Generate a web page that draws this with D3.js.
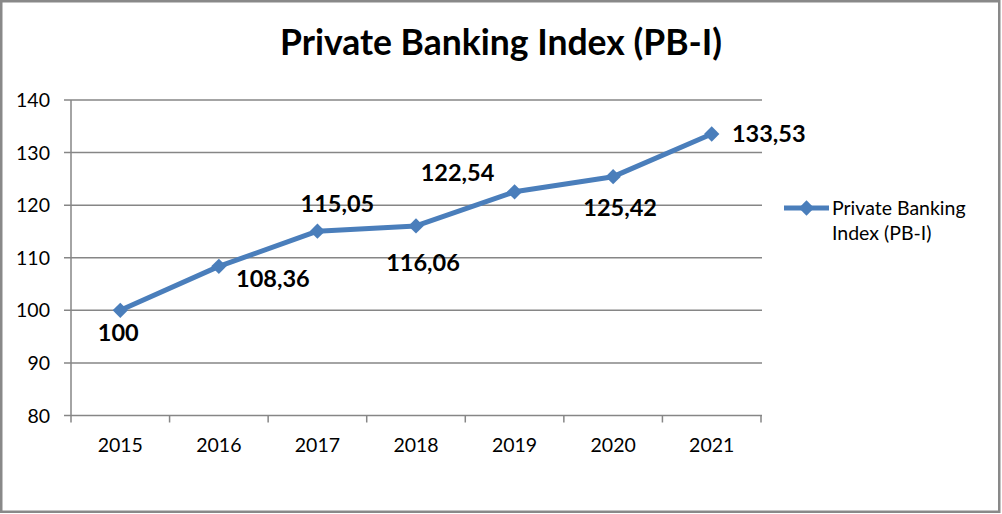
<!DOCTYPE html>
<html>
<head>
<meta charset="utf-8">
<script src="https://d3js.org/d3.v7.min.js"></script>
<style>
  body { margin: 0; background: #fff; }
  text { font-family: Lato, "Open Sans", sans-serif; fill: #000; }
</style>
</head>
<body>
<script>
// chart data
const years = ["2015", "2016", "2017", "2018", "2019", "2020", "2021"];
const pbIndex = [100, 108.36, 115.05, 116.06, 122.54, 125.42, 133.53];
const yTicks = [80, 90, 100, 110, 120, 130, 140];
const seriesName = "Private Banking Index (PB-I)";

// where each data label sits relative to its point (dx to label centre, dy to baseline)
const labelOffsets = [[-2, 31], [54, 21], [20, -19], [7, 45], [-57, -11], [7, 39], [57, 8]];

const width = 1002, height = 514;
const plotLeft = 71, plotRight = 761, plotTop = 100, plotBottom = 415.5;
const blue = "#4a7ebb", grid = "#868686";

const locale = d3.formatLocale({decimal: ",", thousands: ".", grouping: [3], currency: ["", ""]});
const fmt = v => Number.isInteger(v) ? String(v) : locale.format(".2f")(v);

const svg = d3.select("body").append("svg")
    .attr("width", width)
    .attr("height", height);

// outer frame
svg.append("rect")
    .attr("x", 1.25).attr("y", 1.25)
    .attr("width", width - 4).attr("height", height - 3.5)
    .attr("fill", "#fff")
    .attr("stroke", "#898989")
    .attr("stroke-width", 2.5);

// title
svg.append("text")
    .attr("x", 501).attr("y", 55)
    .attr("text-anchor", "middle")
    .style("font-size", "35.5px")
    .style("font-weight", "bold")
    .text(seriesName);

let x = d3.scaleBand().domain(years).range([plotLeft, plotRight]).padding(0);
let y = d3.scaleLinear().domain([80, 140]).range([plotBottom, plotTop]);
let cx = d => x(d) + x.bandwidth() / 2;

// horizontal gridlines + y ticks
svg.append("g").selectAll("line")
    .data(yTicks)
    .join("line")
        .attr("x1", plotLeft - 7).attr("x2", plotRight + 1)
        .attr("y1", d => y(d)).attr("y2", d => y(d))
        .style("stroke", grid)
        .style("stroke-width", 1.5);

// y axis line
svg.append("line")
    .attr("x1", plotLeft).attr("x2", plotLeft)
    .attr("y1", plotTop).attr("y2", plotBottom)
    .style("stroke", grid).style("stroke-width", 1.5);

// y labels
svg.append("g").selectAll("text")
    .data(yTicks)
    .join("text")
        .attr("x", 50).attr("y", d => y(d) + 7)
        .attr("text-anchor", "end")
        .style("font-size", "19.5px")
        .text(d => d);

// x tick marks at category boundaries
let boundaries = years.map(d => x(d)).concat([plotRight]);
svg.append("g").selectAll("line")
    .data(boundaries)
    .join("line")
        .attr("x1", d => d).attr("x2", d => d)
        .attr("y1", plotBottom).attr("y2", plotBottom + 7)
        .style("stroke", grid).style("stroke-width", 1.5);

// x labels
svg.append("g").selectAll("text")
    .data(years)
    .join("text")
        .attr("x", d => cx(d)).attr("y", 451.5)
        .attr("text-anchor", "middle")
        .style("font-size", "19.5px")
        .text(d => d);

// series line
let points = years.map((d, i) => ({year: d, value: pbIndex[i], off: labelOffsets[i]}));
let line = d3.line().x(d => cx(d.year)).y(d => y(d.value));

svg.append("path")
    .datum(points)
    .attr("d", line)
    .style("fill", "none")
    .style("stroke", blue)
    .style("stroke-width", 5)
    .style("stroke-linejoin", "round");

// diamond markers
let diamond = d3.symbol().type(d3.symbolDiamond2).size(150);
svg.append("g").selectAll("path")
    .data(points)
    .join("path")
        .attr("d", diamond)
        .attr("transform", d => `translate(${cx(d.year)},${y(d.value)})`)
        .style("fill", blue);

// data labels
svg.append("g").selectAll("text")
    .data(points)
    .join("text")
        .attr("x", d => cx(d.year) + d.off[0])
        .attr("y", d => y(d.value) + d.off[1])
        .attr("text-anchor", "middle")
        .style("font-size", "23.5px")
        .style("font-weight", "bold")
        .text(d => fmt(d.value));

// legend
let lg = svg.append("g").attr("transform", "translate(784,208)");
lg.append("line")
    .attr("x1", 0).attr("x2", 45)
    .style("stroke", blue).style("stroke-width", 5);
lg.append("path")
    .attr("d", diamond)
    .attr("transform", "translate(22.5,0)")
    .style("fill", blue);
lg.append("text")
    .attr("x", 48).attr("y", 7)
    .style("font-size", "19.5px")
    .text("Private Banking");
lg.append("text")
    .attr("x", 48).attr("y", 32)
    .style("font-size", "19.5px")
    .text("Index (PB-I)");
</script>
</body>
</html>
